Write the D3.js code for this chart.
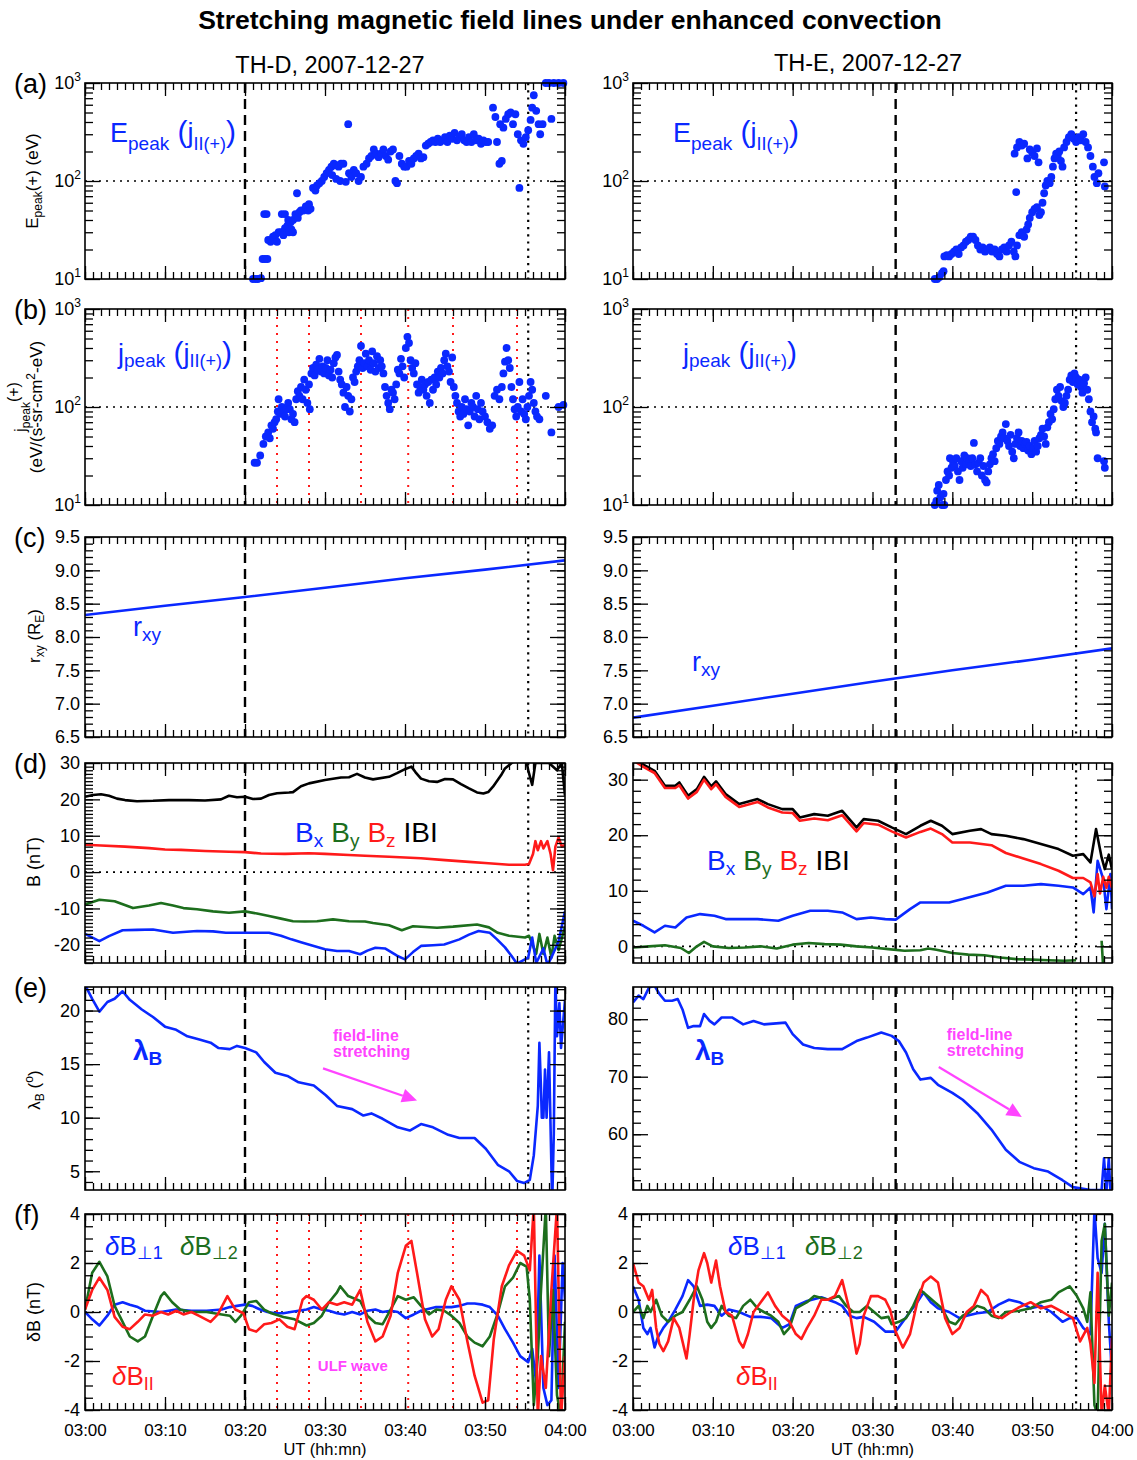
<!DOCTYPE html>
<html>
<head>
<meta charset="utf-8">
<script src="https://cdn.jsdelivr.net/npm/d3@7"></script>
<style>
  body { margin: 0; background: #fff; }
  svg { font-family: "Liberation Sans", Arial, Helvetica, sans-serif; }
</style>
</head>
<body>
<script>
// ---- data: [minutes after 03:00 UT, value] ----
var epeakD = [[21.0,10],[21.3,10],[21.6,10],[22.0,10.2],[22.2,16],[22.5,16],[22.8,16],[22.4,46],[22.7,46],
  [22.9,25],[23.2,24],[23.5,27],[23.8,28],[24.0,24],[24.2,30],[24.5,30],[24.8,28],[25.0,33],[25.3,35],[25.5,30],
  [25.8,32],[24.6,46],[25.0,46],[25.4,40],[25.7,38],[26.0,40],[26.3,46],[26.6,42],[26.0,30],[26.5,75],[26.8,48],
  [27.0,50],[27.3,50],[27.6,55],[27.9,50],[28.2,52],[28.0,58],[28.5,85],[28.8,80],[29.0,90],[29.3,95],[29.6,100],
  [29.9,110],[30.2,120],[30.5,130],[30.8,140],[31.1,150],[31.4,145],[31.7,140],[32.0,150],[32.3,150],[30.9,115],
  [31.4,105],[31.9,100],[32.6,98],[32.9,380],[33.0,120],[33.3,110],[33.6,130],[33.9,120],[34.2,100],[34.5,110],
  [34.8,140],[35.2,150],[35.5,170],[35.8,180],[36.1,210],[36.4,190],[36.7,175],[37.0,190],[37.3,210],[37.6,180],
  [37.9,165],[38.2,200],[38.5,210],[38.8,100],[39.0,95],[39.3,180],[39.6,150],[39.9,140],[40.2,140],[40.5,160],
  [40.8,150],[41.1,170],[41.4,180],[41.7,190],[42.0,170],[42.3,175],[42.6,230],[42.9,240],[43.2,250],[43.5,260],
  [43.8,250],[44.1,270],[44.4,250],[44.7,260],[45.0,280],[45.3,250],[45.6,290],[45.9,270],[46.2,310],[46.5,260],
  [46.8,280],[47.1,300],[47.4,260],[47.7,250],[48.0,280],[48.3,250],[48.6,300],[48.9,260],[49.2,270],[49.5,240],
  [49.8,260],[50.1,250],[50.4,250],[51.0,560],[51.3,450],[51.5,250],[51.8,150],[52.1,160],[51.9,380],[52.3,350],
  [52.6,430],[52.9,480],[53.2,500],[53.5,380],[53.8,480],[54.1,300],[54.3,85],[54.5,260],[54.8,240],[55.1,280],
  [55.4,330],[55.7,420],[55.9,560],[56.1,750],[56.4,520],[56.7,380],[56.9,300],[57.2,380],[57.6,1000],[58.0,1000],
  [58.3,430],[58.6,1000],[59.2,1000],[59.8,1000]];

var epeakE = [[37.8,10],[38.1,10],[38.4,10.5],[38.7,11.5],[38.9,12],[39.0,17],[39.3,17.5],[39.6,17],[39.9,18],
  [40.2,19],[40.5,20],[40.8,18],[41.1,21],[41.4,22],[41.7,24],[42.0,25],[42.3,27],[42.6,27],[42.9,25],[43.2,22],
  [43.5,20],[43.8,21],[44.1,19],[44.4,20],[44.7,21],[45.0,19],[45.3,20],[45.6,18],[45.9,17],[46.2,20],[46.5,21],
  [46.8,19],[47.1,22],[47.4,24],[47.7,19],[47.9,17],[47.8,190],[48.1,220],[48.4,250],[48.7,230],[49.0,240],
  [49.4,170],[49.7,210],[50.0,195],[50.3,180],[50.6,215],[50.8,155],[48.0,77],[48.1,22],[48.4,28],[48.7,30],
  [49.0,27],[49.3,32],[49.5,36],[49.7,42],[50.0,48],[50.3,52],[50.6,54],[50.9,45],[51.1,48],[51.3,60],[51.5,75],
  [51.7,90],[51.9,100],[52.2,95],[52.4,110],[52.6,140],[52.8,170],[53.0,190],[53.2,180],[53.4,200],[53.6,160],
  [53.8,140],[54.0,220],[54.3,250],[54.6,280],[54.9,300],[55.2,270],[55.5,250],[55.8,280],[56.1,260],[56.4,300],
  [56.7,250],[57.0,220],[57.3,180],[57.6,140],[57.8,110],[58.1,95],[58.3,120],[59.0,155],[59.1,88]];

var jpeakD = [[21.2,27],[21.5,27],[21.9,32],[22.3,42],[22.6,50],[22.9,55],[23.1,48],[23.3,65],[23.5,60],[23.7,70],
  [23.9,75],[24.1,90],[24.2,120],[24.4,85],[24.6,100],[24.8,90],[25.0,80],[25.2,95],[25.4,110],[25.6,95],[25.8,75],
  [26.0,85],[26.2,70],[26.4,120],[26.6,145],[26.8,130],[27.0,160],[27.2,120],[27.4,190],[27.6,150],[27.8,110],
  [28.0,170],[28.1,95],[28.3,220],[28.5,250],[28.7,210],[28.9,270],[29.1,240],[29.3,310],[29.5,230],[29.7,260],
  [29.9,220],[30.1,250],[30.3,300],[30.5,210],[30.7,240],[30.9,200],[31.1,280],[31.3,320],[31.5,340],[31.7,230],
  [31.9,190],[32.1,170],[32.3,140],[32.5,100],[32.7,160],[32.9,130],[33.1,90],[33.3,120],[33.5,200],[33.7,180],
  [33.9,230],[34.1,260],[34.3,300],[34.5,420],[34.7,250],[34.9,280],[35.1,350],[35.3,260],[35.5,300],[35.7,240],
  [35.9,370],[36.1,280],[36.3,230],[36.5,330],[36.7,250],[36.9,300],[37.1,260],[37.3,220],[37.5,160],[37.7,130],
  [37.9,110],[38.1,95],[38.3,150],[38.5,140],[38.7,120],[38.9,170],[39.1,240],[39.3,220],[39.5,310],[39.7,260],
  [39.9,200],[40.1,400],[40.3,520],[40.5,450],[40.7,300],[40.9,250],[41.1,220],[41.3,280],[41.5,170],[41.7,140],
  [41.9,160],[42.1,190],[42.3,150],[42.5,170],[42.7,130],[42.9,180],[43.1,110],[43.3,190],[43.5,150],[43.7,200],
  [43.9,170],[44.1,230],[44.3,200],[44.5,250],[44.7,220],[44.9,300],[45.1,350],[45.3,260],[45.5,230],[45.7,180],
  [45.9,320],[46.1,160],[46.3,130],[46.5,110],[46.7,90],[46.9,80],[47.1,100],[47.3,85],[47.5,120],[47.7,95],
  [47.9,65],[48.1,90],[48.3,110],[48.5,100],[48.7,80],[48.9,130],[49.1,95],[49.3,75],[49.5,110],[49.7,90],
  [50.0,80],[50.3,70],[50.6,60],[50.9,65],[51.2,130],[51.5,150],[51.8,120],[52.1,160],[52.3,220],[52.5,290],
  [52.7,400],[52.9,300],[53.1,250],[53.3,160],[53.5,120],[53.7,95],[53.9,80],[54.1,100],[54.3,180],[54.5,90],
  [54.7,120],[54.9,85],[55.1,75],[55.3,100],[55.5,130],[55.7,180],[55.9,150],[56.1,110],[56.3,90],[56.5,80],
  [56.8,75],[57.6,130],[58.3,55],[59.2,100],[59.8,105]];

var jpeakE = [[37.8,10],[38.0,11],[38.1,14],[38.3,16],[38.5,12],[38.7,10],[38.9,13],[39.0,10],[39.2,18],[39.4,22],
  [39.6,20],[39.7,30],[39.9,24],[40.1,27],[40.3,25],[40.5,30],[40.7,22],[40.9,18],[41.1,28],[41.3,24],[41.5,32],
  [41.7,26],[41.9,30],[42.1,28],[42.3,25],[42.5,30],[42.7,43],[42.9,26],[43.1,22],[43.3,27],[43.5,30],[43.7,20],
  [43.9,25],[44.1,18],[44.3,17],[44.5,22],[44.7,26],[44.9,30],[45.1,33],[45.3,28],[45.5,38],[45.7,45],[45.9,42],
  [46.1,50],[46.3,55],[46.5,48],[46.7,67],[46.9,45],[47.1,40],[47.3,52],[47.5,35],[47.7,30],[47.9,42],[48.1,48],
  [48.3,55],[48.5,40],[48.7,45],[48.9,38],[49.1,42],[49.3,44],[49.5,36],[49.7,40],[49.9,33],[50.1,38],[50.3,45],
  [50.5,35],[50.7,40],[50.9,48],[51.1,52],[51.3,60],[51.5,50],[51.7,42],[51.9,62],[52.1,70],[52.3,85],[52.5,75],
  [52.7,95],[52.9,120],[53.1,150],[53.3,130],[53.5,160],[53.7,115],[53.9,100],[54.1,110],[54.3,130],[54.5,150],
  [54.7,190],[54.9,210],[55.1,180],[55.3,220],[55.5,200],[55.7,170],[55.9,190],[56.1,160],[56.3,140],[56.5,175],
  [56.7,200],[56.9,150],[57.1,120],[57.3,90],[57.5,70],[57.7,80],[57.9,60],[58.0,55],[58.2,30],[59.0,28],[59.1,24]];

var rxyD = [[0,8.33],[10,8.47],[20,8.60],[30,8.74],[40,8.88],[50,9.01],[60,9.15]];
var rxyE = [[0,6.79],[10,6.97],[20,7.15],[30,7.33],[40,7.50],[50,7.66],[60,7.83]];

var btD = [[0,20.7],[1,21.2],[2,21.4],[3,21.0],[4,20.2],[5,19.8],[6.5,19.5],[8.5,19.6],[10.5,19.8],[13,19.8],[15,19.7],
  [17,20],[18,21],[19,20.6],[20,20.7],[21,20.1],[22,20.2],[23,21.2],[24,21.7],[25.5,21.9],[26,22],[27,23.6],[28,24.4],
  [30,25.3],[32,26],[33,26.1],[34,27],[35,26],[36,25.5],[38,26.2],[39,27.2],[40,28.3],[40.8,29],[41.3,27.5],[42,25.7],
  [43,25],[44,24.8],[45,25.6],[46,25.5],[47,24.2],[48,23],[49,21.9],[49.8,21.6],[50.4,22],[51,23.5],[52,26.6],
  [52.5,28.5],[53.5,30.3],[54.5,30.5],[55.2,30.3],[55.4,28],[55.9,24],[56.3,30],[58,30],[59,28],[59.6,30],[60,21]];
var bzD = [[0,7.5],[2,7.3],[5,7],[8,6.6],[10,6.2],[12,6.1],[15,5.8],[18,5.6],[20,5.5],[22,5.1],[25,5.0],[28,5.2],
  [30,5.0],[33,4.7],[35,4.5],[38,4.2],[40,4.0],[42,3.8],[45,3.3],[48,2.8],[50,2.5],[53,2.0],
  [55,2.0],[55.5,2.2],[56,5],[56.3,8.5],[56.6,6],[57,8.5],[57.3,6.5],[57.8,8.5],[58.2,5],[58.5,0.5],[58.8,7],
  [59.2,9.5],[59.6,7],[60,7.5]];
var byD = [[0,-8.9],[1.8,-7.6],[3.7,-8],[6,-9.9],[8,-9.2],[9.5,-8.5],[11,-9.2],[12.3,-9.9],[14,-10.2],[16,-10.8],
  [18,-11.2],[20,-10.8],[21.5,-11.4],[23,-12.1],[24.5,-12.8],[26,-13.5],[27.5,-13.6],[29,-13.5],[31,-13],[33,-13.5],
  [35,-13.6],[36,-14],[38,-14.6],[39.6,-16],[41,-14.9],[42.5,-15.1],[44,-15.3],[46,-15],[49,-14.4],[50.5,-15.2],
  [51.6,-16.7],[53,-17.5],[55,-18],[55.5,-17.5],[56.4,-22.5],[56.8,-17],[57.3,-22.5],[57.8,-18],[58.3,-23.5],
  [58.7,-17.5],[59.2,-21.5],[60,-15]];
var bxD = [[0,-17],[1.8,-19],[3,-17.6],[4.7,-16],[6.5,-15.9],[8.5,-15.8],[11,-16.7],[14,-16.2],[16,-16.3],[17.6,-16.7],
  [20,-16.7],[23,-16.7],[24.5,-17.5],[25.8,-18.5],[27,-19.3],[28.6,-20.3],[30,-21.2],[31.5,-21.7],[33,-21.7],
  [34.4,-22.6],[35.3,-21.6],[36.3,-20.8],[37.5,-21],[39,-23],[40,-24],[41,-22],[42,-20.3],[43.5,-20.1],[44.9,-19.9],
  [46.8,-18.5],[48,-17.2],[49.2,-16.2],[50.6,-16.7],[51.5,-18.5],[52.5,-20.7],[53.3,-23],[54,-25.2],[55.4,-23.5],
  [55.9,-18],[56.4,-25],[57.3,-21],[57.8,-25.5],[58.3,-23.5],[59.2,-19],[60,-10.8]];

var btE = [[0,33.9],[1.3,32.7],[2.7,31.6],[4,28.9],[5.3,28.9],[5.8,29.5],[6.9,27.1],[8,28.3],[8.9,30.5],[9.8,28.8],
  [10.4,29.7],[11.6,27.4],[13.3,25.6],[15.6,26.5],[16.9,25.6],[18.7,24.7],[20,24.7],[20.9,23.2],[22.7,23.8],
  [24.4,23.5],[26.2,24.4],[28,21.4],[28.9,22.9],[30.7,22.6],[32.4,21.4],[34.2,20.2],[36,21.7],[37.3,22.6],
  [38.7,21.7],[40,20.2],[42.2,20.8],[43.6,21.1],[44.9,20.2],[46.7,19.9],[48.9,19.3],[51.1,18.4],[53.3,17.5],
  [55.1,16.3],[56.4,16.6],[57.3,15.1],[58,21.1],[58.7,16],[59.1,13.9],[59.6,16.5],[60,13.9]];
var bzE = [[0,33.5],[1.3,32.3],[2.7,31.2],[4,28.5],[5.3,28.5],[5.8,29],[6.9,26.6],[8,27.8],[8.9,30],[9.8,28.3],
  [10.4,29.2],[11.6,26.9],[13.3,25.1],[15.6,26],[16.9,25],[18.7,24.1],[20,24],[20.9,22.6],[22.7,23],[24.4,22.7],
  [26.2,23.6],[28,20.7],[28.9,22.2],[30.7,21.9],[32.4,20.7],[34.2,19.6],[36,20.6],[37.3,21.2],[38.7,20.2],
  [40,18.7],[42.2,18.7],[44.9,18.2],[46.7,16.8],[48.9,15.8],[51.1,14.8],[53.3,13.6],[55.1,12.3],[56.4,12.3],
  [57.3,11.5],[57.8,9],[58.2,13],[58.5,9.5],[58.9,12.5],[59.3,10.5],[59.6,12.5],[60,10.5]];
var bxE = [[0,4.6],[1.3,3.7],[2.7,2.5],[4,3.7],[5.3,3.4],[6.7,5.2],[8.4,5.8],[10.2,5.5],[11.6,4.9],[13.3,4.9],
  [15.6,4.9],[18.2,4.6],[20,5.5],[22.2,6.4],[24.4,6.4],[26.2,6.1],[28,4.9],[29.8,5.2],[31.6,4.9],[32.9,4.8],
  [34.7,6.7],[36,7.9],[37.8,7.9],[39.6,7.9],[41.3,8.5],[44.4,9.7],[46.7,10.9],[48.9,10.9],[51.1,11.2],[53.3,10.9],
  [55.1,10.6],[56.4,9.4],[57.3,10.6],[57.7,6.1],[58.2,15.4],[58.9,12.1],[59.3,6.7],[59.8,13],[60,6.7]];
var byE = [[0,-0.2],[2,0],[4,0.2],[6,-0.3],[7,-1.2],[8,0],[8.9,0.8],[10,0],[12,-0.3],[14,-0.2],[16,0],[18,-0.4],
  [20,0.3],[22,0.6],[24,0.4],[26,0.3],[28,0],[30,-0.2],[32,-0.5],[34,-0.8],[36,-0.7],[37,-0.4],[38,-0.6],[40,-1.2],
  [42,-1.5],[44,-1.6],[46,-2],[48,-2.3],[50,-2.4],[52,-2.5],[54,-2.6],[55.5,-2.5],[55.6,null],[58.7,1],[58.9,-4]];

var lamD = [[0,22.4],[0.9,21.1],[1.8,19.9],[2.8,20.8],[3.7,21.1],[4.7,21.8],[5.6,21],[7.1,20.1],[8.5,19.4],[10,18.5],
  [11.4,18.2],[12.8,17.6],[14.3,17.3],[15.7,17],[16.7,16.5],[18.1,16.4],[19,16.7],[20,16.5],[21.4,16.1],[22.4,15.2],
  [23.8,14.2],[25.3,13.9],[26.7,13.3],[28.6,13],[30.1,12.1],[31.5,11.1],[33.4,10.8],[34.8,10.2],[35.8,10.4],
  [37.2,9.9],[39.1,9.1],[40.6,8.8],[42,9.4],[43.5,9.1],[45.4,8.4],[46.8,8.1],[48.7,8.1],[50.1,7.1],[51.6,5.6],
  [53,5],[54,4.1],[54.9,3.9],[55.6,4.2],[56.1,6.5],[56.6,11.1],[56.8,17],[57,12.7],[57.1,10],[57.3,10],[57.5,14.5],
  [57.7,10],[58,16.1],[58.2,9],[58.4,2],[58.6,8.5],[58.8,23],[59,17.6],[59.3,20.7],[59.5,16.5],[60,21]];
var lamE = [[0,82.9],[0.7,84.1],[1.3,83.5],[2,85.5],[2.7,85.8],[3.3,84.4],[4,83.2],[4.9,83.2],[5.6,83.5],[6.2,81.7],
  [6.9,78.5],[7.6,78.8],[8.4,78.8],[8.9,80.9],[9.6,79.7],[10.2,79.1],[11.1,80.3],[12.4,80.3],[13.8,79.1],[15.1,79.7],
  [16.4,79.1],[19.1,79.4],[20,77.4],[21.3,75.6],[22.7,75],[24.4,74.8],[26.2,74.8],[28,76.2],[29.3,76.8],[31.1,77.7],
  [32.4,77.1],[33.3,76.2],[34.2,74.2],[35.1,71.3],[36,69.5],[37.3,69.8],[38.2,68.6],[40,67.2],[41.3,66],[43.1,63.7],
  [44.9,60.8],[46.7,57.3],[48.4,55.2],[50.2,54.1],[52,53.5],[53.8,52],[55.1,50.8],[56.4,50.5],[57.3,50.3],
  [58.7,50.3],[59.0,55.8],[59.3,50],[59.6,55.8],[59.8,50]];

var dbParD = [[0,0.1],[0.9,0.9],[1.8,1.4],[2.8,0.9],[3.7,-0.2],[4.7,-0.6],[5.6,-0.7],[6.6,-0.4],[7.5,-0.1],[8.5,-0.15],
  [9.5,0.0],[10.4,-0.1],[11.4,0.05],[12.3,-0.1],[13.3,0],[14.2,-0.15],[15.7,-0.4],[16.6,-0.1],[17.8,0.65],[18.8,0.1],
  [19.8,-0.05],[20.5,-0.7],[21.4,-0.8],[22.4,-0.5],[23.3,-0.45],[24.3,-0.3],[25.3,-0.6],[26.2,-0.7],[27.2,0.5],
  [27.7,0.65],[28.6,0.5],[29.6,0.1],[30.5,0.4],[31.5,0.3],[32.4,0.4],[33.4,0.3],[34.4,0.9],[35.3,-0.4],[36.3,-1.2],
  [37.2,-1],[38.2,-0.15],[39.1,1.6],[40.1,2.7],[40.8,2.9],[41.5,1.6],[42.5,-0.3],[43.4,-1],[44.2,-0.7],[45.1,0.5],
  [45.8,1.05],[46.8,0.5],[47.8,-1.2],[48.7,-2.6],[49.7,-3.7],[50.4,-3.6],[51.1,-1.1],[52.1,1.05],[53,1.9],[54,2.5],
  [54.9,2.3],[55.6,1.7],[56.1,4.3],[56.6,-4.3],[57,-1.8],[57.6,-3.1],[58.3,0.9],[59,4.3],[59.5,-4.3],[60,-1.8]];
var dbPerp2D = [[0,0.1],[0.9,1.6],[1.8,2.05],[2.8,1.45],[3.7,0.25],[4.7,-0.4],[5.6,-1],[6.6,-1.2],[7.5,-1],[8.5,-0.15],
  [9.5,0.65],[9.9,0.8],[10.9,0.4],[11.9,0.1],[13.3,0],[15.2,0],[17.1,-0.1],[18.1,-0.15],[18.8,-0.4],[19.5,-0.15],
  [20.5,0.4],[21.4,0.45],[22.4,0.1],[23.3,-0.05],[24.8,-0.2],[26.2,-0.3],[27.7,-0.55],[28.6,-0.45],[29.6,-0.15],
  [30.5,0.4],[31.5,0.8],[31.9,1.05],[32.9,0.65],[34.4,0.45],[35.3,-0.15],[36.3,-0.45],[37.2,-0.5],[38.2,0.1],
  [39.1,0.65],[40.1,0.5],[41.1,0.6],[42,0.25],[43,-0.1],[43.9,0.1],[44.9,0.05],[45.8,-0.15],[46.8,-0.45],[47.8,-1],
  [48.7,-1.25],[49.7,-1.4],[50.6,-1],[51.6,-0.05],[52.5,1.05],[53.5,1.4],[54.4,2.0],[55.2,1.85],[55.6,0.5],
  [56.1,-3.8],[56.6,-1.8],[57,0.9],[57.6,4.3],[58,-1.8],[58.5,0.9],[59,-3.4],[59.5,-4.3],[60,-0.4]];
var dbPerp1D = [[0,0],[0.9,-0.3],[1.8,-0.55],[2.8,-0.15],[3.7,0.3],[4.7,0.4],[5.6,0.3],[6.6,0.2],[7.5,0.05],[9.5,0],
  [11.4,0.1],[13.3,0.05],[15.2,0.05],[17.1,0.1],[18.1,0.2],[19,0.25],[20,0.3],[20.9,0.25],[21.9,0.1],[22.8,0],
  [23.8,-0.05],[24.8,-0.05],[25.7,0],[26.7,0.05],[27.7,0.1],[28.6,0.2],[29.6,0.1],[30.5,0.05],[31.5,-0.05],
  [32.4,-0.1],[33.4,0],[34.4,-0.1],[35.3,0.05],[36.3,0.1],[37.2,0],[38.2,0.05],[39.1,0],[40.1,-0.25],[41.1,-0.1],
  [42,0.05],[43.9,0.2],[45.8,0.2],[46.8,0.25],[47.8,0.35],[48.7,0.35],[49.7,0.3],[50.6,0.2],[51.6,-0.15],
  [52.5,-0.7],[53.5,-1.25],[54.4,-1.8],[55.4,-2.05],[55.9,-1.5],[56.4,-2.9],[56.8,2.3],[57.3,-3.1],[57.8,-3.8],
  [58.3,-3.6],[58.7,2.3],[59.2,-3.1],[59.7,2],[60,0.5]];

var dbParE = [[0,2],[0.7,1.2],[1.3,1.05],[2,0.5],[2.4,0.9],[2.9,-0.65],[3.3,-1.3],[3.8,-1.6],[4.4,-1.2],[5.1,-0.25],
  [5.8,-0.65],[6.2,-1.2],[6.7,-1.9],[7.1,-0.9],[7.6,0.5],[8.2,1.7],[8.9,2.4],[9.3,2],[9.8,1.2],[10.4,2.1],[10.9,1.05],
  [11.6,0],[12.4,-0.15],[13.3,-1.2],[13.8,-1.45],[14.4,-0.9],[15.1,0],[16,0.4],[16.9,0.8],[17.8,0.25],[18.7,-0.15],
  [19.6,-0.4],[20.4,-0.9],[21.1,-1.1],[21.8,-0.65],[22.7,-0.15],[23.6,0.5],[24.4,0.5],[25.3,0.65],[26.2,1.3],
  [27.1,0.1],[28,-1.7],[28.4,-1.3],[28.9,-0.15],[29.8,0.65],[30.7,0.65],[31.6,0.5],[32.2,0.1],[32.9,-0.8],
  [33.8,-1.45],[34.7,-0.9],[35.6,0.4],[36.4,1.2],[37.3,1.45],[38.2,1.2],[39.1,-0.25],[40,-0.9],[40.9,-0.65],
  [41.8,0],[42.7,0.25],[43.6,0.9],[44.4,0.65],[45.3,-0.15],[46.2,-0.25],[47.1,-0.05],[48.4,0.2],[49.8,0.4],
  [51.1,0.15],[52.4,0.25],[53.8,0],[55.1,-0.25],[56,-1.2],[56.9,-0.65],[57.3,-1.3],[57.8,-2.9],[58.2,1.6],
  [58.7,-4.2],[59.1,-3],[59.6,-4.2],[60,-1.05]];
var dbPerp1E = [[0,1.05],[0.7,0.5],[1.3,-0.65],[1.8,-0.9],[2.2,-0.65],[2.7,-1.45],[3.1,-1.05],[3.8,-0.65],[4.4,-0.4],
  [5.3,0.1],[6.2,0.65],[6.9,1.3],[7.6,1.05],[8.4,0.25],[9.3,0.3],[10.2,0.25],[11.1,-0.15],[12,0.1],[13.3,0],
  [14.7,-0.2],[16,-0.2],[17.3,-0.25],[18.7,-0.65],[19.6,-0.5],[20.4,0.25],[21.8,0.45],[23.6,0.6],[25.3,0.4],
  [26.2,0.25],[27.1,-0.15],[28,-0.25],[28.9,-0.2],[30.2,-0.4],[31.6,-0.8],[32.9,-0.8],[33.8,-0.4],[34.7,0],
  [35.6,0.4],[36.4,0.8],[37.3,0.4],[38.2,0.15],[39.6,0],[40.9,-0.25],[41.8,-0.15],[43.1,-0.05],[44.4,0],[45.8,0.3],
  [47.1,0.5],[48.4,0.4],[49.8,0.15],[51.1,0.25],[52.4,0],[53.8,-0.4],[54.7,-0.25],[55.6,-0.25],[56.4,-0.65],
  [57.3,-0.9],[57.8,4.2],[58.2,2.2],[58.7,1.6],[59.1,3.6],[59.6,-0.4],[60,-2.5]];
var dbPerp2E = [[0,0],[0.7,0.25],[1.3,-0.25],[1.8,0.25],[2.2,0],[2.9,0.5],[3.6,-0.15],[4.4,-0.4],[5.3,-0.15],[6.2,0],
  [7.1,0.5],[8,1.05],[8.7,0.5],[9.3,-0.4],[9.8,-0.65],[10.4,-0.4],[11.1,0.25],[12,-0.15],[12.9,-0.25],[13.8,0.25],
  [14.7,0.5],[15.6,0.15],[16.4,0],[17.3,-0.15],[18.2,-0.4],[18.9,-0.9],[19.6,-0.65],[20.4,0.15],[21.8,0.4],
  [22.7,0.65],[24.4,0.5],[25.8,0.65],[26.7,0.25],[27.6,0],[28.4,0],[29.3,0.25],[30.2,0],[31.1,-0.25],[32,-0.2],
  [32.4,-0.5],[33.3,-0.4],[34.2,-0.25],[35.1,0.25],[36,0.9],[36.9,0.65],[37.8,0.4],[38.7,0.15],[39.6,-0.4],
  [40.4,-0.5],[41.3,-0.15],[42.2,0],[43.1,0.25],[44,0.15],[44.9,-0.15],[45.8,-0.25],[46.7,0],[48.4,0.05],
  [49.8,0.15],[51.1,0.4],[52.4,0.5],[53.3,0.8],[54.7,1.05],[55.6,0.65],[56.4,0.15],[56.9,-0.4],[57.3,0.8],
  [57.8,-3.8],[58.2,-4.2],[58.7,2.9],[59.1,3.6],[59.6,-0.15],[60,1.2]];

// event times (minutes after 03:00)
var onsetD = 20, onsetE = 32.9, endD = 55.4, endE = 55.5;
var ulfD = [24, 28, 34.5, 40.4, 46, 54];

// ---- layout ----
var W = 1137, H = 1460;
var BLUE = '#0a28ff', GREEN = '#1d6e1d', RED = '#ff1a1a', MAG = '#ff44ff';
var t0 = Date.UTC(2007, 11, 27, 3, 0);
function T(m) { return new Date(t0 + m * 60000); }

var cols = [{x0: 85, x1: 565}, {x0: 633, x1: 1112}];
var rows = [{y0: 83, y1: 279}, {y0: 309, y1: 505}, {y0: 537, y1: 737},
            {y0: 763, y1: 963}, {y0: 987, y1: 1190}, {y0: 1214, y1: 1410}];

var svg = d3.select('body').append('svg').attr('width', W).attr('height', H);

function rich(el, parts, size) {
  var off = 0;
  parts.forEach(function(p) {
    var s = typeof p === 'string' ? {t: p} : p;
    var fs = s.size || ((s.sub || s.sup) ? size * 0.65 : size);
    var target = s.sub ? (s.dy != null ? s.dy : size * 0.28) : s.sup ? -size * 0.42 : 0;
    var ts = el.append('tspan').attr('dy', target - off).style('font-size', fs + 'px').text(s.t);
    if (s.it) ts.style('font-style', 'italic');
    off = target;
  });
  return el;
}

function panel(col, row, cfg) {
  var c = cols[col], r = rows[row];
  var w = c.x1 - c.x0, h = r.y1 - r.y0;
  var g = svg.append('g').attr('transform', 'translate(' + c.x0 + ',' + r.y0 + ')');
  var x = d3.scaleUtc().domain([T(0), T(60)]).range([0, w]);
  var y = cfg.log ? d3.scaleLog().domain([10, 1000]).range([h, 0])
                  : d3.scaleLinear().domain(cfg.domain).range([h, 0]);
  var id = 'clip' + col + '_' + row;
  g.append('clipPath').attr('id', id).append('rect').attr('width', w).attr('height', h);
  var plot = g.append('g').attr('clip-path', 'url(#' + id + ')');

  // reference lines
  if (cfg.zero != null) {
    plot.append('line').attr('x1', 0).attr('x2', w).attr('y1', y(cfg.zero)).attr('y2', y(cfg.zero))
      .attr('stroke', '#000').attr('stroke-width', 1.6).attr('stroke-dasharray', '2,5');
  }
  (cfg.red || []).forEach(function(m) {
    plot.append('line').attr('x1', x(T(m))).attr('x2', x(T(m))).attr('y1', 0).attr('y2', h)
      .attr('stroke', RED).attr('stroke-width', 2).attr('stroke-dasharray', '2,6');
  });
  plot.append('line').attr('x1', x(T(cfg.onset))).attr('x2', x(T(cfg.onset))).attr('y1', 0).attr('y2', h)
    .attr('stroke', '#000').attr('stroke-width', 2.4).attr('stroke-dasharray', '10,6');
  plot.append('line').attr('x1', x(T(cfg.end))).attr('x2', x(T(cfg.end))).attr('y1', 0).attr('y2', h)
    .attr('stroke', '#000').attr('stroke-width', 2.2).attr('stroke-dasharray', '2.2,5');

  // data
  var line = d3.line().defined(function(d) { return d[1] != null; })
    .x(function(d) { return x(T(d[0])); }).y(function(d) { return y(d[1]); });
  (cfg.lines || []).forEach(function(s) {
    plot.append('path').datum(s.data).attr('d', line).attr('fill', 'none')
      .attr('stroke', s.color).attr('stroke-width', 2.6).attr('stroke-linejoin', 'round');
  });
  if (cfg.points) {
    g.append('g').selectAll('circle').data(cfg.points).enter().append('circle')
      .attr('cx', function(d) { return x(T(d[0])); })
      .attr('cy', function(d) { return y(d[1]); })
      .attr('r', 3.9).attr('fill', BLUE);
  }

  // frame
  g.append('rect').attr('width', w).attr('height', h).attr('fill', 'none')
    .attr('stroke', '#000').attr('stroke-width', 1.6);

  // x ticks
  function xt(axisFn, ty, every, len, labels) {
    var a = axisFn(x).ticks(d3.utcMinute.every(every)).tickSize(-len).tickPadding(14)
      .tickFormat(labels ? d3.utcFormat('%H:%M') : '');
    var ag = g.append('g').attr('transform', 'translate(0,' + ty + ')').call(a);
    ag.select('.domain').remove();
    ag.selectAll('line').attr('stroke-width', 1.3);
    ag.selectAll('text').style('font-size', '17px').attr('fill', '#000');
  }
  xt(d3.axisBottom, h, 1, 7, false);
  xt(d3.axisBottom, h, 10, 13, cfg.xlabels);
  xt(d3.axisTop, 0, 1, 7, false);
  xt(d3.axisTop, 0, 10, 13, false);

  // y ticks
  var major = cfg.log ? [10, 100, 1000] : cfg.major;
  var minor = cfg.log ? d3.range(1, 3).reduce(function(acc, e) {
      return acc.concat(d3.range(2, 10).map(function(k) { return k * Math.pow(10, e); }));
    }, []) : cfg.minor;
  function yt(axisFn, tx, vals, len, labels) {
    var a = axisFn(y).tickValues(vals).tickSize(-len).tickPadding(5).tickFormat(labels ? cfg.fmt : '');
    var ag = g.append('g').attr('transform', 'translate(' + tx + ',0)').call(a);
    ag.select('.domain').remove();
    ag.selectAll('line').attr('stroke-width', 1.3);
    ag.selectAll('text').style('font-size', '18px').attr('fill', '#000');
    return ag;
  }
  yt(d3.axisLeft, 0, minor, 8, false);
  var lab = yt(d3.axisLeft, 0, major, 15, !cfg.log);
  yt(d3.axisRight, w, minor, 8, false);
  yt(d3.axisRight, w, major, 15, false);
  if (cfg.log) {
    lab.selectAll('.tick').append('text').attr('x', -4).attr('dy', '0.32em')
      .attr('text-anchor', 'end').attr('fill', '#000').style('font-size', '18px')
      .each(function(d) {
        var t = d3.select(this);
        t.append('tspan').text('10');
        t.append('tspan').attr('dy', -8).style('font-size', '12px').text(Math.round(Math.log10(d)));
      });
  }
  return {g: g, x: x, y: y, w: w, h: h};
}

function legend(p, x, y, parts, color, size, weight) {
  var t = p.g.append('text').attr('x', x).attr('y', y).attr('fill', color);
  if (weight) t.style('font-weight', weight);
  rich(t, parts, size);
  return t;
}

// ---- panels ----
var fmtH = function(d) { return String(d); };
var fmt1 = function(d) { return d.toFixed(1); };
function cfg(col, o) { return Object.assign({onset: col ? onsetE : onsetD, end: col ? endE : endD}, o); }

var panels = [];
[0, 1].forEach(function(col) {
  var pa = panel(col, 0, cfg(col, {log: true, zero: 100, points: col ? epeakE : epeakD}));
  var pb = panel(col, 1, cfg(col, {log: true, zero: 100, points: col ? jpeakE : jpeakD, red: col ? [] : ulfD}));
  var pc = panel(col, 2, cfg(col, {domain: [6.5, 9.5], major: d3.range(6.5, 9.51, 0.5),
    minor: d3.range(6.5, 9.51, 0.1), fmt: fmt1,
    lines: [{data: col ? rxyE : rxyD, color: BLUE}]}));
  var pd = panel(col, 3, cfg(col, col
    ? {domain: [-3, 33], major: [0, 10, 20, 30], minor: d3.range(-2, 33, 2), fmt: fmtH, zero: 0,
       lines: [{data: byE, color: GREEN}, {data: bxE, color: BLUE}, {data: btE, color: '#000'}, {data: bzE, color: RED}]}
    : {domain: [-25, 30], major: [-20, -10, 0, 10, 20, 30], minor: d3.range(-25, 31, 1), fmt: fmtH, zero: 0,
       lines: [{data: btD, color: '#000'}, {data: bzD, color: RED}, {data: byD, color: GREEN}, {data: bxD, color: BLUE}]}));
  var pe = panel(col, 4, cfg(col, col
    ? {domain: [50.3, 85.6], major: [60, 70, 80], minor: d3.range(52, 86, 2), fmt: fmtH,
       lines: [{data: lamE, color: BLUE}]}
    : {domain: [3.25, 22.2], major: [5, 10, 15, 20], minor: d3.range(4, 23, 1), fmt: fmtH,
       lines: [{data: lamD, color: BLUE}]}));
  var pf = panel(col, 5, cfg(col, {domain: [-4, 4], major: [-4, -2, 0, 2, 4], minor: d3.range(-4, 4.01, 0.5),
    fmt: fmtH, zero: 0, xlabels: true, red: col ? [] : ulfD,
    lines: col ? [{data: dbPerp1E, color: BLUE}, {data: dbPerp2E, color: GREEN}, {data: dbParE, color: RED}]
               : [{data: dbPerp1D, color: BLUE}, {data: dbPerp2D, color: GREEN}, {data: dbParD, color: RED}]}));
  panels.push([pa, pb, pc, pd, pe, pf]);
});

// ---- in-panel legends ----
var L = panels[0], R = panels[1];
function epeakLbl(p, x) {
  legend(p, x, 59, ['E', {t: 'peak', sub: true, size: 19}, {t: ' (', size: 30}, 'j', {t: 'II(+)', sub: true, size: 18},
    {t: ')', size: 30}], BLUE, 27);
}
function jpeakLbl(p, x) {
  legend(p, x, 54, ['j', {t: 'peak', sub: true, size: 19, dy: 4}, {t: ' (', size: 30}, 'j', {t: 'II(+)', sub: true, size: 18, dy: 4},
    {t: ')', size: 30}], BLUE, 27);
}
epeakLbl(L[0], 25); epeakLbl(R[0], 40);
jpeakLbl(L[1], 33); jpeakLbl(R[1], 50);
legend(L[2], 48, 99, ['r', {t: 'xy', sub: true, size: 19, dy: 5}], BLUE, 27);
legend(R[2], 59, 134, ['r', {t: 'xy', sub: true, size: 19, dy: 5}], BLUE, 27);

function bLbl(p, x, y) {
  var t = p.g.append('text').attr('x', x).attr('y', y);
  [['B', 'x', BLUE], ['B', 'y', GREEN], ['B', 'z', RED]].forEach(function(b, i) {
    t.append('tspan').attr('fill', b[2]).attr('dy', i ? -5 : 0).attr('dx', i ? 8 : 0).style('font-size', '28px').text(b[0]);
    t.append('tspan').attr('fill', b[2]).attr('dy', 5).style('font-size', '19px').text(b[1]);
  });
  t.append('tspan').attr('fill', '#000').attr('dy', -5).attr('dx', 8).style('font-size', '28px').text('IBI');
}
bLbl(L[3], 210, 79);
bLbl(R[3], 74, 107);

legend(L[4], 48, 73, ['λ', {t: 'B', sub: true, size: 19, dy: 5}], BLUE, 28, 'bold');
legend(R[4], 62, 73, ['λ', {t: 'B', sub: true, size: 19, dy: 5}], BLUE, 28, 'bold');

function stretch(p, tx, ty, a) {
  var t = p.g.append('text').attr('fill', MAG).style('font-weight', 'bold').style('font-size', '16px');
  t.append('tspan').attr('x', p.x(T(tx))).attr('y', p.y(ty)).text('field-line');
  t.append('tspan').attr('x', p.x(T(tx))).attr('dy', 16).text('stretching');
  var x1 = p.x(T(a[0])), y1 = p.y(a[1]), x2 = p.x(T(a[2])), y2 = p.y(a[3]);
  var ang = Math.atan2(y2 - y1, x2 - x1), hl = 15, hw = 7;
  var bx = x2 - hl * Math.cos(ang), by = y2 - hl * Math.sin(ang);
  p.g.append('line').attr('x1', x1).attr('y1', y1).attr('x2', bx).attr('y2', by)
    .attr('stroke', MAG).attr('stroke-width', 2.2);
  p.g.append('path').attr('fill', MAG).attr('d', 'M' + x2 + ',' + y2 +
    'L' + (bx - hw * Math.sin(ang)) + ',' + (by + hw * Math.cos(ang)) +
    'L' + (bx + hw * Math.sin(ang)) + ',' + (by - hw * Math.cos(ang)) + 'Z');
}
stretch(L[4], 31, 17.2, [29.75, 14.6, 41.5, 11.6]);
stretch(R[4], 39.3, 76.4, [38.3, 71.7, 48.7, 63.0]);

function dbLbl(p, x1, x2, x3) {
  legend(p, x1, 41, [{t: 'δ', it: true}, 'B', {t: '⊥1', sub: true, size: 18, dy: 4}], BLUE, 26);
  legend(p, x2, 41, [{t: 'δ', it: true}, 'B', {t: '⊥2', sub: true, size: 18, dy: 4}], GREEN, 26);
  legend(p, x3, 171, [{t: 'δ', it: true}, 'B', {t: 'II', sub: true, size: 18, dy: 5}], RED, 26);
}
dbLbl(L[5], 20, 95, 27);
dbLbl(R[5], 95, 172, 103);
L[5].g.append('text').attr('x', L[5].x(T(29.1))).attr('y', 157).attr('fill', MAG)
  .style('font-weight', 'bold').style('font-size', '15px').text('ULF wave');

// ---- titles, panel letters, axis titles ----
svg.append('text').attr('x', 570).attr('y', 29).attr('text-anchor', 'middle')
  .style('font-weight', 'bold').style('font-size', '26.5px').text('Stretching magnetic field lines under enhanced convection');
svg.append('text').attr('x', 330).attr('y', 73).attr('text-anchor', 'middle').style('font-size', '23.5px').text('TH-D, 2007-12-27');
svg.append('text').attr('x', 868).attr('y', 71).attr('text-anchor', 'middle').style('font-size', '23.5px').text('TH-E, 2007-12-27');

['(a)', '(b)', '(c)', '(d)', '(e)', '(f)'].forEach(function(s, i) {
  svg.append('text').attr('x', 14).attr('y', rows[i].y0 + 10).style('font-size', '27px').text(s);
});

[0, 1].forEach(function(col) {
  var c = cols[col];
  svg.append('text').attr('x', (c.x0 + c.x1) / 2).attr('y', 1455).attr('text-anchor', 'middle')
    .style('font-size', '16.5px').text('UT (hh:mn)');
});

function ytitle(cx, cy, parts, size) {
  var t = svg.append('text').attr('text-anchor', 'middle')
    .attr('transform', 'translate(' + cx + ',' + cy + ') rotate(-90)');
  rich(t, parts, size);
}
ytitle(38, 181, ['E', {t: 'peak', sub: true, size: 12, dy: 4}, '(+) (eV)'], 17);
ytitle(26, 407, ['j', {t: 'peak', sub: true, size: 12, dy: 4}, {t: '(+)', sup: true, size: 16}], 17);
ytitle(42, 407, ['(eV/(s-sr-cm', {t: '2', sup: true, size: 12}, '-eV)'], 17);
ytitle(40, 636, ['r', {t: 'xy', sub: true, size: 12, dy: 4}, ' (R', {t: 'E', sub: true, size: 12, dy: 4}, ')'], 17);
ytitle(40, 862, ['B (nT)'], 18);
ytitle(40, 1090, ['λ', {t: 'B', sub: true, size: 12, dy: 4}, ' (', {t: 'o', sup: true, size: 12}, ')'], 17);
ytitle(40, 1312, ['δB (nT)'], 18);
</script>
</body>
</html>
